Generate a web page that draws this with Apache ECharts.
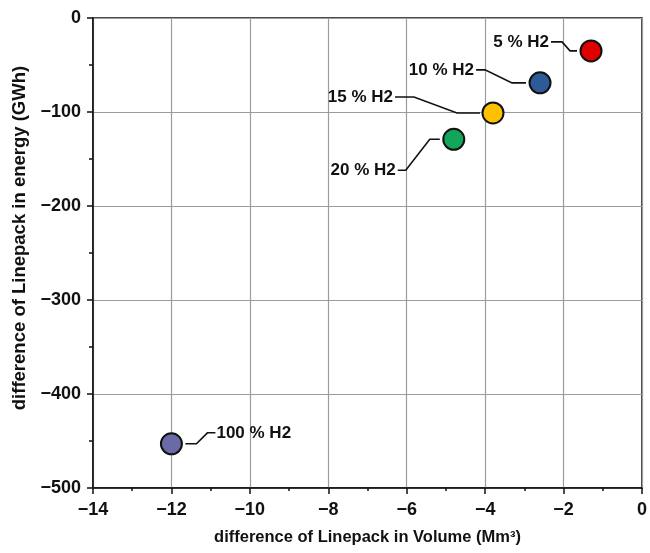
<!DOCTYPE html>
<html>
<head>
<meta charset="utf-8">
<script src="https://cdn.jsdelivr.net/npm/echarts@6/dist/echarts.min.js"></script>
<style>
  html, body { margin: 0; padding: 0; background: #fff; }
  #chart { width: 650px; height: 553px; }
</style>
</head>
<body>
<div id="chart"></div>
<script>
// Hydrogen blend scenarios: change of linepack volume vs. energy
const scenarios = ['5 % H2', '10 % H2', '15 % H2', '20 % H2', '100 % H2'];
const volumeDiff = [-1.3, -2.6, -3.8, -4.8, -12.0];   // Mm³
const energyDiff = [-35, -69, -101, -129, -453];      // GWh
const pointColors = ['#e00000', '#2d5b97', '#ffc000', '#12a65a', '#6a6aa6'];
const xTicks = { min: -14, max: 0, step: 2 };
const yTicks = { min: -500, max: 0, step: 100 };

// Leader-line geometry per label, in pixels relative to the marker centre:
// polyline points, then where the text anchors and which side it aligns to.
const leaders = [
  { pts: [[-14, 0], [-21, 0], [-29, -9], [-40, -9]], text: [-42, -9], align: 'right' },
  { pts: [[-14, 0], [-28, 0], [-55, -13], [-64, -13]], text: [-66, -13], align: 'right' },
  { pts: [[-13, 0], [-36, 0], [-79, -16], [-98, -16]], text: [-100, -16], align: 'right' },
  { pts: [[-14, 0], [-24, 0], [-48, 31], [-56, 31]], text: [-58, 31], align: 'right' },
  { pts: [[14, 0], [25, 0], [36, -11], [44, -11]], text: [45, -11], align: 'left' }
];

const points = volumeDiff.map((v, i) => [v, energyDiff[i]]);
const minus = s => String(s).replace('-', '\u2212');
const FONT = '"Liberation Sans", Arial, sans-serif';

const chart = echarts.init(document.getElementById('chart'), null, { renderer: 'canvas' });

chart.setOption({
  backgroundColor: '#ffffff',
  animation: false,
  grid: {
    left: 93, right: 6, top: 18, bottom: 65,
    show: true, borderColor: '#111', borderWidth: 1.5, backgroundColor: 'transparent'
  },
  xAxis: {
    type: 'value',
    min: xTicks.min, max: xTicks.max, interval: xTicks.step,
    name: 'difference of Linepack in Volume (Mm\u00B3)',
    nameLocation: 'middle',
    nameGap: 41,
    nameTextStyle: { fontFamily: FONT, fontWeight: 'bold', fontSize: 16.5, color: '#111' },
    axisLine: { onZero: false, lineStyle: { color: '#111', width: 1.5 } },
    axisTick: { show: true, length: 6, lineStyle: { color: '#111', width: 1.5 } },
    minorTick: { show: true, splitNumber: 2, length: 3, lineStyle: { color: '#111', width: 1.5 } },
    axisLabel: {
      margin: 13, fontFamily: FONT, fontWeight: 'bold', fontSize: 18, color: '#111',
      formatter: v => minus(v)
    },
    splitLine: { show: true, lineStyle: { color: '#9c9c9c', width: 1.2 } }
  },
  yAxis: {
    type: 'value',
    min: yTicks.min, max: yTicks.max, interval: yTicks.step,
    name: 'difference of Linepack in energy (GWh)',
    nameLocation: 'middle',
    nameGap: 62,
    nameTextStyle: {
      fontFamily: FONT, fontWeight: 'bold', fontSize: 18.5, color: '#111',
      padding: [0, 0, 0, 30]
    },
    axisLine: { onZero: false, lineStyle: { color: '#111', width: 1.5 } },
    axisTick: { show: true, length: 6, lineStyle: { color: '#111', width: 1.5 } },
    minorTick: { show: true, splitNumber: 2, length: 4, lineStyle: { color: '#111', width: 1.5 } },
    axisLabel: {
      margin: 12, fontFamily: FONT, fontWeight: 'bold', fontSize: 18, color: '#111',
      formatter: v => minus(v)
    },
    splitLine: { show: true, lineStyle: { color: '#9c9c9c', width: 1.2 } }
  },
  series: [
    {
      // leader lines and scenario labels
      type: 'custom',
      z: 3,
      data: points,
      renderItem: (params, api) => {
        const i = params.dataIndex;
        const c = api.coord([api.value(0), api.value(1)]);
        const L = leaders[i];
        return {
          type: 'group',
          children: [
            {
              type: 'polyline',
              shape: { points: L.pts.map(p => [c[0] + p[0], c[1] + p[1]]) },
              style: { stroke: '#111', lineWidth: 1.6, fill: null }
            },
            {
              type: 'text',
              x: c[0] + L.text[0],
              y: c[1] + L.text[1],
              style: {
                text: scenarios[i],
                fill: '#111',
                font: 'bold 17px ' + FONT,
                align: L.align,
                verticalAlign: 'middle'
              }
            }
          ]
        };
      }
    },
    {
      type: 'scatter',
      z: 4,
      data: points,
      symbol: 'circle',
      symbolSize: 21,
      itemStyle: {
        color: params => pointColors[params.dataIndex],
        borderColor: '#111',
        borderWidth: 2,
        opacity: 1
      }
    }
  ]
});
</script>
</body>
</html>
